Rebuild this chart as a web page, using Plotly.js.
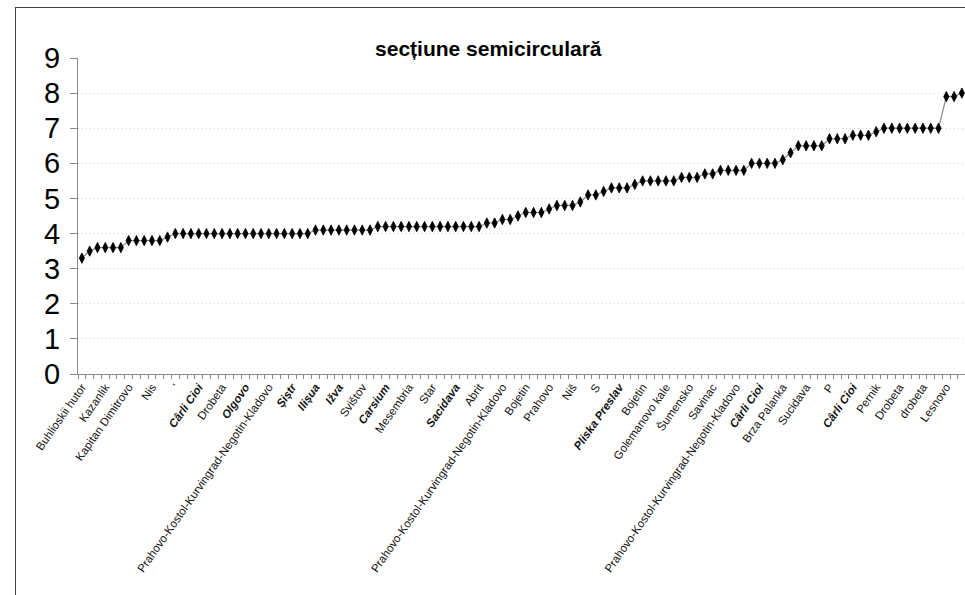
<!DOCTYPE html>
<html>
<head>
<meta charset="utf-8">
<script src="https://cdn.plot.ly/plotly-3.0.1.min.js"></script>
<style>
  html, body { margin: 0; padding: 0; background: #fff; }
  #wrap { position: relative; width: 965px; height: 595px; overflow: hidden; }
  #chart { position: absolute; left: 0; top: 0; width: 965px; height: 595px; }
  #frame { position: absolute; left: 15px; top: 7px; width: 1200px; height: 800px;
           border-left: 1px solid #444; border-top: 1px solid #444; pointer-events: none; }
</style>
</head>
<body>
<div id="wrap">
  <div id="chart"></div>
  <div id="frame"></div>
</div>
<script>
// values, in category order
const values = [
  3.3, 3.5, 3.6, 3.6, 3.6, 3.6, 3.8, 3.8, 3.8, 3.8,
  3.8, 3.9, 4.0, 4.0, 4.0, 4.0, 4.0, 4.0, 4.0, 4.0,
  4.0, 4.0, 4.0, 4.0, 4.0, 4.0, 4.0, 4.0, 4.0, 4.0,
  4.1, 4.1, 4.1, 4.1, 4.1, 4.1, 4.1, 4.1, 4.2, 4.2,
  4.2, 4.2, 4.2, 4.2, 4.2, 4.2, 4.2, 4.2, 4.2, 4.2,
  4.2, 4.2, 4.3, 4.3, 4.4, 4.4, 4.5, 4.6, 4.6, 4.6,
  4.7, 4.8, 4.8, 4.8, 4.9, 5.1, 5.1, 5.2, 5.3, 5.3,
  5.3, 5.4, 5.5, 5.5, 5.5, 5.5, 5.5, 5.6, 5.6, 5.6,
  5.7, 5.7, 5.8, 5.8, 5.8, 5.8, 6.0, 6.0, 6.0, 6.0,
  6.1, 6.3, 6.5, 6.5, 6.5, 6.5, 6.7, 6.7, 6.7, 6.8,
  6.8, 6.8, 6.9, 7.0, 7.0, 7.0, 7.0, 7.0, 7.0, 7.0,
  7.0, 7.9, 7.9, 8.0
];

// visible category labels (every third category)
const tickLabels = [
  "Buhlioskii hutor", "Kazanlik", "Kapitan Dimitrovo", "Nis", "'",
  "<b><i>Cârli Cioi</i></b>", "Drobeta", "<b><i>Olgovo</i></b>",
  "Prahovo-Kostol-Kurvingrad-Negotin-Kladovo", "<b><i>Șiștr</i></b>",
  "<b><i>Ilișua</i></b>", "<b><i>Ižva</i></b>", "Svištov", "<b><i>Carsium</i></b>",
  "Mesembria", "Star", "<b><i>Sacidava</i></b>", "Abrit",
  "Prahovo-Kostol-Kurvingrad-Negotin-Kladovo", "Bojetin", "Prahovo", "Niš", "S",
  "<b><i>Pliska Preslav</i></b>", "Bojetin", "Golemanovo kale", "Šumensko", "Savinac",
  "Prahovo-Kostol-Kurvingrad-Negotin-Kladovo", "<b><i>Cârli Cioi</i></b>", "Brza Palanka",
  "Sucidava", "P", "<b><i>Cârli Cioi</i></b>", "Pernik", "Drobeta", "drobeta", "Lesnovo"
];
const labelStep = 3;

const xIdx = values.map((_, i) => i);
const tickVals = tickLabels.map((_, k) => k * labelStep);

const trace = {
  x: xIdx,
  y: values,
  type: 'scatter',
  mode: 'lines+markers',
  line: { color: '#8a8a8a', width: 1.2 },
  marker: { symbol: 'diamond-tall', size: 7.4, color: '#000', line: { color: '#000', width: 0.8 } },
  cliponaxis: true,
  hoverinfo: 'x+y'
};

const layout = {
  width: 965,
  height: 595,
  margin: { l: 78, r: 0, t: 58, b: 221, pad: 0 },
  paper_bgcolor: 'rgba(0,0,0,0)',
  plot_bgcolor: '#fff',
  showlegend: false,
  title: {
    text: 'secțiune semicirculară',
    font: { family: 'Liberation Sans, Arial, sans-serif', size: 21, color: '#000', weight: 'bold' },
    x: 0.506, xanchor: 'center', xref: 'container',
    y: 0.918, yanchor: 'middle', yref: 'container'
  },
  xaxis: {
    type: 'linear',
    range: [-0.5, 113.4],
    tickmode: 'array',
    tickvals: tickVals,
    ticktext: tickLabels,
    tickangle: -55,
    ticks: 'outside',
    ticklen: 1,
    tickcolor: 'rgba(0,0,0,0)',
    tickfont: { family: 'Liberation Sans, Arial, sans-serif', size: 11.5, color: '#111' },
    showgrid: false,
    zeroline: false,
    showline: true,
    linecolor: '#8a8a8a',
    linewidth: 1,
    minor: { ticks: 'outside', ticklen: 4, tick0: 0.5, dtick: 1, tickcolor: '#8a8a8a', tickwidth: 1, showgrid: false }
  },
  yaxis: {
    range: [0, 9],
    dtick: 1,
    tick0: 0,
    ticks: 'outside',
    ticklen: 7,
    tickcolor: '#8a8a8a',
    ticklabelstandoff: 4,
    tickfont: { family: 'Liberation Sans, Arial, sans-serif', size: 29, color: '#000' },
    showgrid: true,
    gridcolor: '#cfcfcf',
    griddash: '1px,3px',
    gridwidth: 1,
    zeroline: false,
    showline: true,
    linecolor: '#8a8a8a',
    linewidth: 1
  }
};

Plotly.newPlot('chart', [trace], layout, { displayModeBar: false, staticPlot: true });
</script>
</body>
</html>
